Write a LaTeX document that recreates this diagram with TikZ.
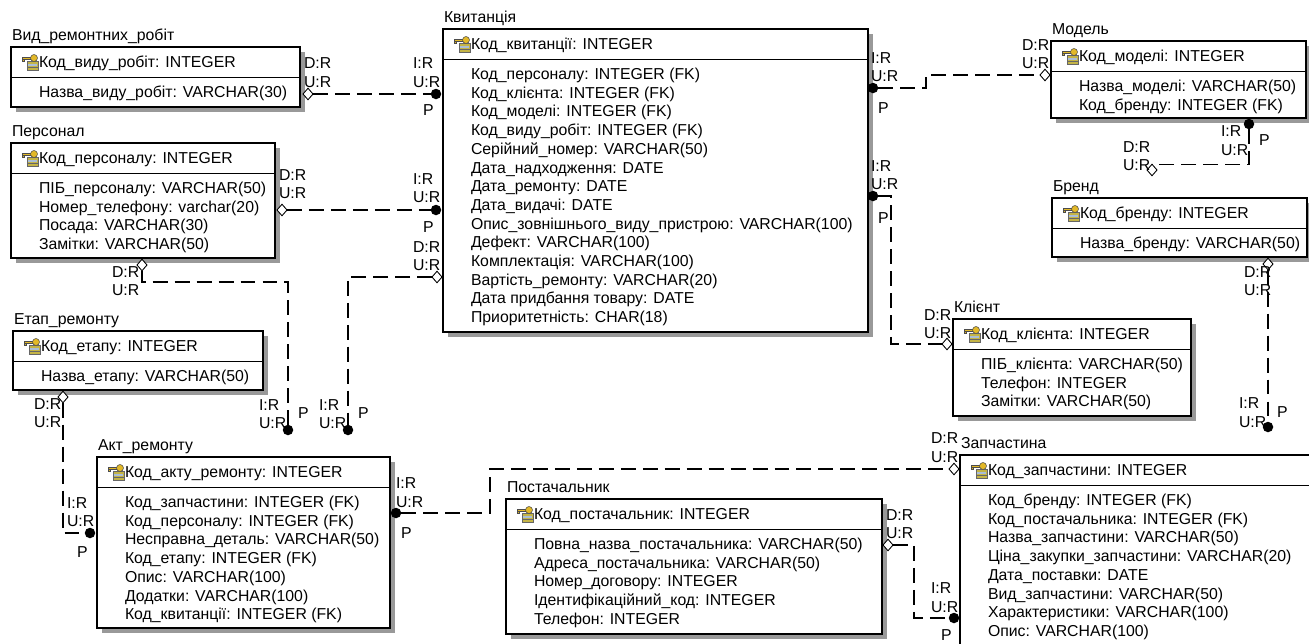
\documentclass[tikz,border=0pt]{standalone}
\usepackage{fontspec}
\setmainfont{Liberation Sans}
\usetikzlibrary{shapes.geometric}

\definecolor{keygold}{RGB}{226,184,40}
\definecolor{keytab}{RGB}{196,180,70}
\definecolor{keyband}{RGB}{170,190,215}

\tikzset{
  every node/.style={font=\fontsize{9}{10.64}\selectfont, inner sep=0pt, outer sep=0pt},
  row/.style={anchor=base west},
  lbl/.style={anchor=west, align=left},
  box/.style={draw, fill=white, line width=0.6pt},
  boxshade/.style={fill=black!40},
  rel/.style={line width=0.6pt, dash pattern=on 8.5pt off 4pt},
  nulldiamond/.style={diamond, draw, fill=white, line width=0.5pt, minimum width=0.2cm, minimum height=0.23cm},
  fkdot/.style={circle, fill=black, minimum size=0.21cm},
  keyicon/.pic={
    \filldraw[draw=black!60, fill=keytab, line width=0.3pt] (-3,-1) rectangle (8,8);
    \fill[keyband] (-2,1.5) rectangle (7,3.5);
    \draw[black!60, line width=0.3pt] (-3,5.5) -- (8,5.5);
    \filldraw[draw=black!70, fill=keygold, line width=0.3pt] (-8,-5) rectangle (2,-3);
    \filldraw[draw=black!70, fill=keygold, line width=0.3pt] (-8,-3) rectangle (-6,-1);
    \filldraw[draw=black!70, fill=keygold, line width=0.3pt] (4,-4) circle (3.5);
  }
}

\begin{document}
\begin{tikzpicture}[x=0.02cm, y=-0.02cm]
\useasboundingbox (0,0) rectangle (1309,643);
\fill[white] (0,0) rectangle (1309,643);
\clip (0,0) rectangle (1309,643);

% Вид_ремонтних_робіт
\fill[boxshade] (16,52) rectangle (305,112);
\draw[box] (11,47) rectangle (300,107);
\draw (11,77) -- (300,77);
\node[row] (vyd) at (12,40.5) {Вид\_ремонтних\_робіт};
\pic at (30,62) {keyicon};
\node[row] (vyd-pk) at (39,67.5) {Код\_виду\_робіт: INTEGER};
\node[row] (vyd-0) at (39,97.5) {Назва\_виду\_робіт: VARCHAR(30)};

% Персонал
\fill[boxshade] (16,148) rectangle (280,263);
\draw[box] (11,143) rectangle (275,258);
\draw (11,173) -- (275,173);
\node[row] (pers) at (12,136.5) {Персонал};
\pic at (30,158) {keyicon};
\node[row] (pers-pk) at (39,163.5) {Код\_персоналу: INTEGER};
\foreach \t [count=\i from 0] in {ПІБ\_персоналу: VARCHAR(50), Номер\_телефону: varchar(20),
    Посада: VARCHAR(30), Замітки: VARCHAR(50)}
  \node[row] (pers-\i) at (39,193.5+18.7*\i) {\t};

% Квитанція
\fill[boxshade] (448,34) rectangle (873,337);
\draw[box] (443,29) rectangle (868,332);
\draw (443,59) -- (868,59);
\node[row] (kvyt) at (444,22.5) {Квитанція};
\pic at (462,44) {keyicon};
\node[row] (kvyt-pk) at (471,49.5) {Код\_квитанції: INTEGER};
\foreach \t [count=\i from 0] in {Код\_персоналу: INTEGER (FK), Код\_клієнта: INTEGER (FK),
    Код\_моделі: INTEGER (FK), Код\_виду\_робіт: INTEGER (FK), Серійний\_номер: VARCHAR(50),
    Дата\_надходження: DATE, Дата\_ремонту: DATE, Дата\_видачі: DATE,
    Опис\_зовнішнього\_виду\_пристрою: VARCHAR(100), Дефект: VARCHAR(100),
    Комплектація: VARCHAR(100), Вартість\_ремонту: VARCHAR(20),
    Дата придбання товару: DATE, Приоритетність: CHAR(18)}
  \node[row] (kvyt-\i) at (471,79.5+18.7*\i) {\t};

% Модель
\fill[boxshade] (1056,46) rectangle (1311,123);
\draw[box] (1051,41) rectangle (1306,118);
\draw (1051,71) -- (1306,71);
\node[row] (model) at (1052,34.5) {Модель};
\pic at (1070,56) {keyicon};
\node[row] (model-pk) at (1079,61.5) {Код\_моделі: INTEGER};
\foreach \t [count=\i from 0] in {Назва\_моделі: VARCHAR(50), Код\_бренду: INTEGER (FK)}
  \node[row] (model-\i) at (1079,91.5+18.7*\i) {\t};

% Бренд
\fill[boxshade] (1057,203) rectangle (1312,262);
\draw[box] (1052,198) rectangle (1307,257);
\draw (1052,228) -- (1307,228);
\node[row] (brend) at (1053,191.5) {Бренд};
\pic at (1071,213) {keyicon};
\node[row] (brend-pk) at (1080,218.5) {Код\_бренду: INTEGER};
\node[row] (brend-0) at (1080,248.5) {Назва\_бренду: VARCHAR(50)};

% Клієнт
\fill[boxshade] (958,324) rectangle (1196,421);
\draw[box] (953,319) rectangle (1191,416);
\draw (953,349) -- (1191,349);
\node[row] (klient) at (954,312.5) {Клієнт};
\pic at (972,334) {keyicon};
\node[row] (klient-pk) at (981,339.5) {Код\_клієнта: INTEGER};
\foreach \t [count=\i from 0] in {ПІБ\_клієнта: VARCHAR(50), Телефон: INTEGER, Замітки: VARCHAR(50)}
  \node[row] (klient-\i) at (981,369.5+18.7*\i) {\t};

% Запчастина
\fill[boxshade] (965,460) rectangle (1335,665);
\draw[box] (960,455) rectangle (1330,660);
\draw (960,485) -- (1330,485);
\node[row] (zapch) at (961,448.5) {Запчастина};
\pic at (979,470) {keyicon};
\node[row] (zapch-pk) at (988,475.5) {Код\_запчастини: INTEGER};
\foreach \t [count=\i from 0] in {Код\_бренду: INTEGER (FK), Код\_постачальника: INTEGER (FK),
    Назва\_запчастини: VARCHAR(50), Ціна\_закупки\_запчастини: VARCHAR(20),
    Дата\_поставки: DATE, Вид\_запчастини: VARCHAR(50), Характеристики: VARCHAR(100),
    Опис: VARCHAR(100)}
  \node[row] (zapch-\i) at (988,505.5+18.7*\i) {\t};

% Етап_ремонту
\fill[boxshade] (18,336) rectangle (268,395);
\draw[box] (13,331) rectangle (263,390);
\draw (13,361) -- (263,361);
\node[row] (etap) at (14,324.5) {Етап\_ремонту};
\pic at (32,346) {keyicon};
\node[row] (etap-pk) at (41,351.5) {Код\_етапу: INTEGER};
\node[row] (etap-0) at (41,381.5) {Назва\_етапу: VARCHAR(50)};

% Акт_ремонту
\fill[boxshade] (102,462) rectangle (395,633);
\draw[box] (97,457) rectangle (390,628);
\draw (97,487) -- (390,487);
\node[row] (akt) at (98,450.5) {Акт\_ремонту};
\pic at (116,472) {keyicon};
\node[row] (akt-pk) at (125,477.5) {Код\_акту\_ремонту: INTEGER};
\foreach \t [count=\i from 0] in {Код\_запчастини: INTEGER (FK), Код\_персоналу: INTEGER (FK),
    Несправна\_деталь: VARCHAR(50), Код\_етапу: INTEGER (FK), Опис: VARCHAR(100),
    Додатки: VARCHAR(100), Код\_квитанції: INTEGER (FK)}
  \node[row] (akt-\i) at (125,507.5+18.7*\i) {\t};

% Постачальник
\fill[boxshade] (511,504) rectangle (887,639);
\draw[box] (506,499) rectangle (882,634);
\draw (506,529) -- (882,529);
\node[row] (post) at (507,492.5) {Постачальник};
\pic at (525,514) {keyicon};
\node[row] (post-pk) at (534,519.5) {Код\_постачальник: INTEGER};
\foreach \t [count=\i from 0] in {Повна\_назва\_постачальника: VARCHAR(50),
    Адреса\_постачальника: VARCHAR(50), Номер\_договору: INTEGER,
    Ідентифікаційний\_код: INTEGER, Телефон: INTEGER}
  \node[row] (post-\i) at (534,549.5+18.7*\i) {\t};

% Вид_ремонтних_робіт -- Квитанція
\node[nulldiamond] (d1) at (308,94) {};
\node[fkdot] (c1) at (436,94) {};
\draw[rel] (d1) -- (c1);
\node[lbl] (d1-l) at (304,72.5) {D:R\\U:R};
\node[lbl] (c1-l) at (413,72.5) {I:R\\U:R};
\node[lbl] (c1-p) at (423,110) {P};

% Персонал -- Квитанція
\node[nulldiamond] (d2) at (282,210) {};
\node[fkdot] (c2) at (436,210) {};
\draw[rel] (d2) -- (c2);
\node[lbl] (d2-l) at (279,184) {D:R\\U:R};
\node[lbl] (c2-l) at (413,188) {I:R\\U:R};
\node[lbl] (c2-p) at (423,227) {P};

% Персонал -- Акт_ремонту
\node[nulldiamond] (d3) at (142,265) {};
\node[fkdot] (c3) at (288,430) {};
\draw[rel] (d3) -- ++(0,17) -| (c3);
\node[lbl] (d3-l) at (112,281) {D:R\\U:R};
\node[lbl] (c3-l) at (259,414) {I:R\\U:R};
\node[lbl] (c3-p) at (298,413) {P};

% Квитанція -- Акт_ремонту
\node[nulldiamond] (d4) at (437,277) {};
\node[fkdot] (c4) at (348,430) {};
\draw[rel] (d4) -| (c4);
\node[lbl] (d4-l) at (413,256) {D:R\\U:R};
\node[lbl] (c4-l) at (319,414) {I:R\\U:R};
\node[lbl] (c4-p) at (358,413) {P};

% Етап_ремонту -- Акт_ремонту
\node[nulldiamond] (d5) at (63,397) {};
\node[fkdot] (c5) at (90,533) {};
\draw[rel] (d5) |- (c5);
\node[lbl] (d5-l) at (34,413) {D:R\\U:R};
\node[lbl] (c5-l) at (67,512) {I:R\\U:R};
\node[lbl] (c5-p) at (77,552) {P};

% Модель -- Квитанція
\node[nulldiamond] (d6) at (1045,75) {};
\node[fkdot] (c6) at (873,88) {};
\draw[rel] (c6) -- ++(53,0) |- (d6);
\node[lbl] (d6-l) at (1022,54) {D:R\\U:R};
\node[lbl] (c6-l) at (871,67) {I:R\\U:R};
\node[lbl] (c6-p) at (878,108) {P};

% Клієнт -- Квитанція
\node[nulldiamond] (d7) at (947,344) {};
\node[fkdot] (c7) at (873,196) {};
\draw[rel] (c7) -- ++(18,0) |- (d7);
\node[lbl] (d7-l) at (924,324) {D:R\\U:R};
\node[lbl] (c7-l) at (871,175) {I:R\\U:R};
\node[lbl] (c7-p) at (878,218) {P};

% Бренд -- Модель
\node[nulldiamond] (d8) at (1152,170) {};
\node[fkdot] (c8) at (1249,124) {};
\draw[rel] (c8) |- (d8.north);
\node[lbl] (d8-l) at (1123,156) {D:R\\U:R};
\node[lbl] (c8-l) at (1221,140.5) {I:R\\U:R};
\node[lbl] (c8-p) at (1259,140) {P};

% Бренд -- Запчастина
\node[nulldiamond] (d9) at (1268,264) {};
\node[fkdot] (c9) at (1268,427) {};
\draw[rel] (d9) -- (c9);
\node[lbl] (d9-l) at (1244,281) {D:R\\U:R};
\node[lbl] (c9-l) at (1239,412.5) {I:R\\U:R};
\node[lbl] (c9-p) at (1277,412) {P};

% Запчастина -- Акт_ремонту
\node[nulldiamond] (d10) at (954,469) {};
\node[fkdot] (c10) at (396,513) {};
\draw[rel] (c10) -- ++(94,0) |- (d10);
\node[lbl] (d10-l) at (931,447.5) {D:R\\U:R};
\node[lbl] (c10-l) at (396,492.5) {I:R\\U:R};
\node[lbl] (c10-p) at (401,533) {P};

% Постачальник -- Запчастина
\node[nulldiamond] (d11) at (888,545) {};
\node[fkdot] (c11) at (954,618) {};
\draw[rel] (d11) -- ++(26,0) |- (c11);
\node[lbl] (d11-l) at (886,524) {D:R\\U:R};
\node[lbl] (c11-l) at (931,597.5) {I:R\\U:R};
\node[lbl] (c11-p) at (941,635) {P};
\end{tikzpicture}
\end{document}
